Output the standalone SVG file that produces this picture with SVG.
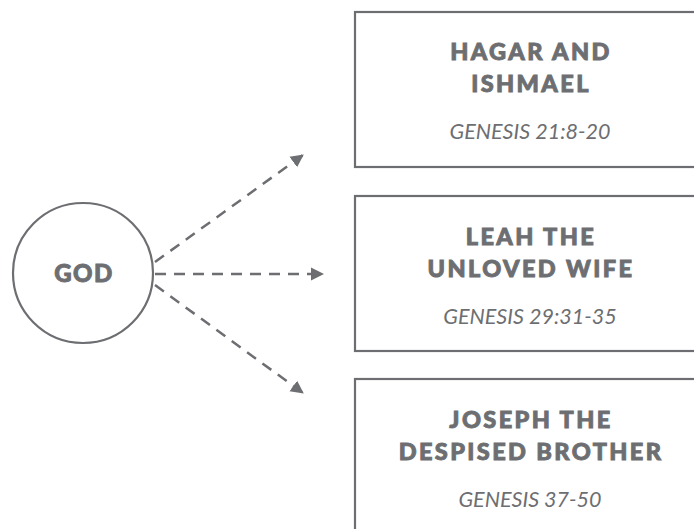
<svg xmlns="http://www.w3.org/2000/svg" width="694" height="529" viewBox="0 0 694 529">
<style>
.box{fill:#fff;stroke:#6d6e71;stroke-width:2.2}
.title{font-family:Lato,"Liberation Sans",sans-serif;font-weight:900;font-size:23.5px;letter-spacing:2.4px;fill:#6d6e71;stroke:#6d6e71;stroke-width:0.9;text-anchor:middle}
.ref{font-family:Lato,"Liberation Sans",sans-serif;font-style:italic;font-size:21.5px;fill:#6d6e71;text-anchor:middle}
.conn{stroke:#6d6e71;stroke-width:2.5;stroke-dasharray:11 8;fill:none}
</style>
<defs>
<marker id="arr" markerUnits="userSpaceOnUse" markerWidth="14" markerHeight="14" refX="12" refY="6.5" orient="auto" viewBox="0 0 14 13">
<path d="M0,0 L13,6.5 L0,13 z" fill="#6d6e71"/>
</marker>
</defs>
<rect width="694" height="529" fill="#fff"/>
<g id="god">
<circle cx="83" cy="273" r="70" fill="#fff" stroke="#6d6e71" stroke-width="2.2"/>
<text x="84" y="282" class="title" style="font-size:24px;letter-spacing:1.5px">GOD</text>
</g>
<g id="hagar">
<rect class="box" x="355" y="12" width="360" height="155"/>
<text x="531" y="60" class="title">HAGAR AND</text>
<text x="531" y="92" class="title">ISHMAEL</text>
<text x="530" y="139" class="ref">GENESIS 21:8-20</text>
</g>
<g id="leah">
<rect class="box" x="355" y="196" width="360" height="155"/>
<text x="531" y="245" class="title">LEAH THE</text>
<text x="531" y="277" class="title">UNLOVED WIFE</text>
<text x="530" y="324" class="ref">GENESIS 29:31-35</text>
</g>
<g id="joseph">
<rect class="box" x="355" y="379" width="360" height="170"/>
<text x="531" y="428" class="title">JOSEPH THE</text>
<text x="531" y="460" class="title">DESPISED BROTHER</text>
<text x="530" y="507" class="ref">GENESIS 37-50</text>
</g>
<g id="connectors">
<line class="conn" x1="155" y1="262" x2="303" y2="155" marker-end="url(#arr)"/>
<line class="conn" x1="155" y1="274" x2="323" y2="274" marker-end="url(#arr)"/>
<line class="conn" x1="155" y1="285" x2="303" y2="393" marker-end="url(#arr)"/>
</g>
</svg>
